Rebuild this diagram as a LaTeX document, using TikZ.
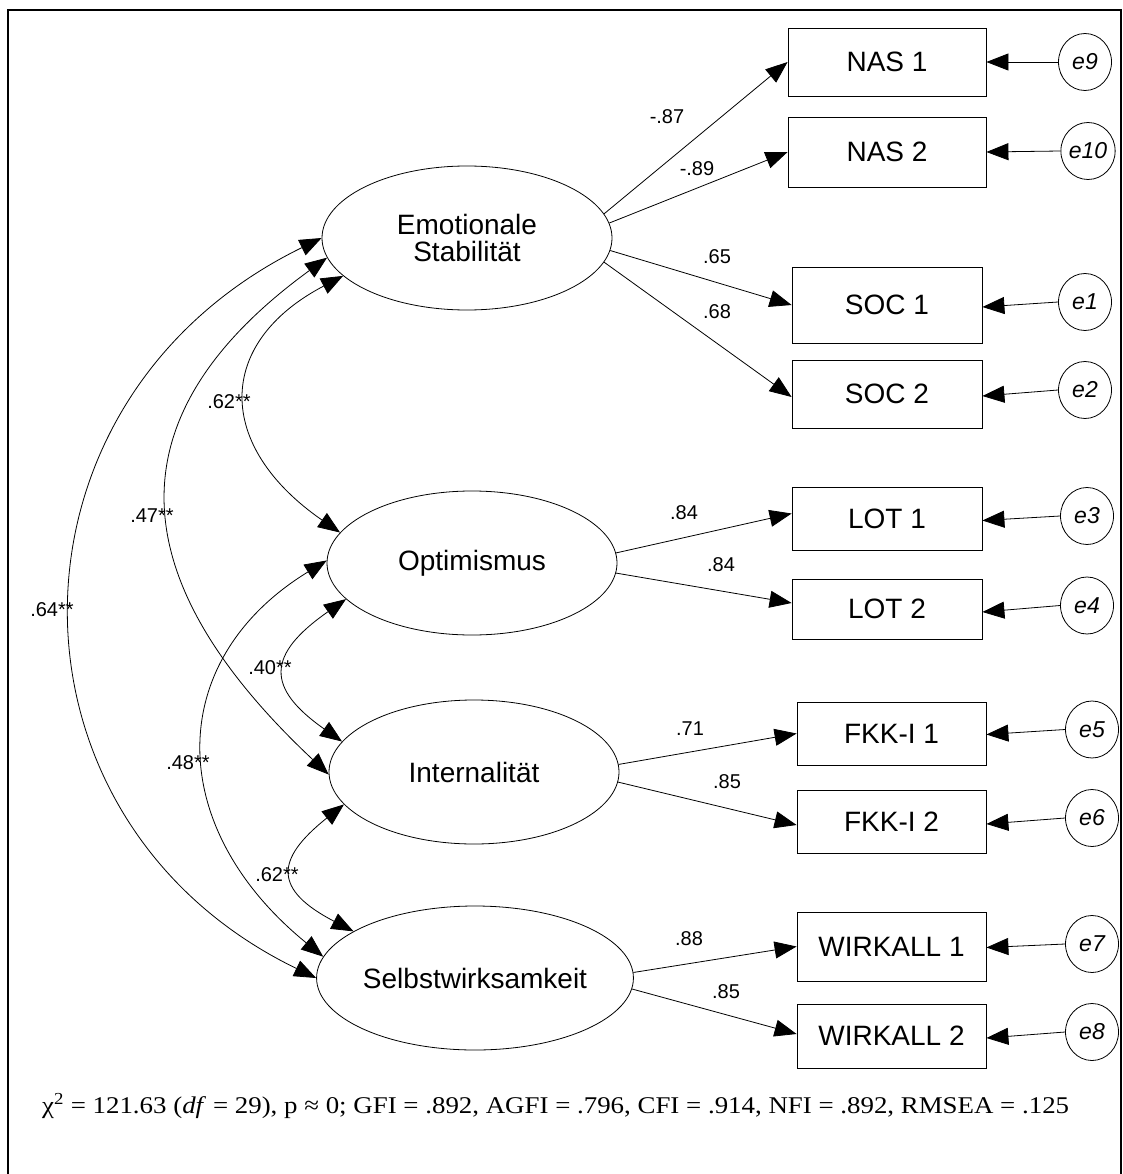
\documentclass[tikz,border=0pt]{standalone}
\usepackage{fontspec}
\setmainfont{Liberation Sans}
\newfontfamily\serifft{Liberation Serif}
\usetikzlibrary{arrows.meta,shapes.geometric,calc}
\begin{document}
\begin{tikzpicture}[x=1pt,y=-1pt,
  lat/.style={draw, ellipse, minimum width=290pt, minimum height=144pt, inner sep=0pt, line width=0.8pt, font=\fontsize{28}{27}\selectfont, align=center},
  obs/.style={draw, rectangle, inner sep=0pt, line width=0.8pt, font=\fontsize{28}{30}\selectfont},
  err/.style={draw, ellipse, minimum width=53pt, minimum height=57pt, inner sep=0pt, line width=0.8pt, font=\fontsize{23}{23}\selectfont\itshape},
  lab/.style={font=\fontsize{20}{20}\selectfont, inner sep=0pt},
  load/.style={line width=0.8pt, -{Triangle[length=22pt,width=17pt]}},
  cov/.style={line width=0.8pt, {Triangle[length=22pt,width=17pt]}-{Triangle[length=22pt,width=17pt]}}]
\useasboundingbox (0,0) rectangle (1123,1174);
\draw[line width=2pt] (8,1190) -- (8,10) -- (1121,10) -- (1121,1190);

% latent variables
\node[lat] (E) at (467,238) {Emotionale\\Stabilität};
\node[lat] (O) at (472,563) {Optimismus};
\node[lat] (I) at (474,772) {Internalität};
\node[lat] (S) at (475,978) {Selbstwirksamkeit};

% observed variables
\node[obs, minimum width=198pt, minimum height=68pt] (nas1) at (887,62) {NAS 1};
\node[obs, minimum width=198pt, minimum height=70pt] (nas2) at (887,152) {NAS 2};
\node[obs, minimum width=190pt, minimum height=76pt] (soc1) at (887,305) {SOC 1};
\node[obs, minimum width=190pt, minimum height=68pt] (soc2) at (887,394) {SOC 2};
\node[obs, minimum width=190pt, minimum height=63pt] (lot1) at (887,518.5) {LOT 1};
\node[obs, minimum width=190pt, minimum height=60pt] (lot2) at (887,609) {LOT 2};
\node[obs, minimum width=189pt, minimum height=63pt] (fkk1) at (891.5,733.5) {FKK-I 1};
\node[obs, minimum width=189pt, minimum height=63pt] (fkk2) at (891.5,822) {FKK-I 2};
\node[obs, minimum width=189pt, minimum height=69pt] (wir1) at (891.5,946.5) {WIRKALL 1};
\node[obs, minimum width=189pt, minimum height=64pt] (wir2) at (891.5,1036) {WIRKALL 2};

% error terms
\node[err] (e9) at (1085,62) {e9};
\node[err] (e10) at (1088,151) {e10};
\node[err] (e1) at (1085,302) {e1};
\node[err] (e2) at (1085,390) {e2};
\node[err] (e3) at (1087,516) {e3};
\node[err] (e4) at (1087,605.5) {e4};
\node[err] (e5) at (1092,729.5) {e5};
\node[err] (e6) at (1092,818) {e6};
\node[err] (e7) at (1092,944) {e7};
\node[err] (e8) at (1092,1032) {e8};

% error arrows
\draw[load] (e9.west) -- (nas1.east);
\draw[load] (e10.west) -- (nas2.east);
\draw[load] (e1.west) -- ($(soc1.east)+(0,2)$);
\draw[load] (e2.west) -- ($(soc2.east)+(0,2)$);
\draw[load] (e3.west) -- ($(lot1.east)+(0,2)$);
\draw[load] (e4.west) -- ($(lot2.east)+(0,3)$);
\draw[load] (e5.west) -- ($(fkk1.east)+(0,1)$);
\draw[load] (e6.west) -- ($(fkk2.east)+(0,2)$);
\draw[load] (e7.west) -- ($(wir1.east)+(0,1)$);
\draw[load] (e8.west) -- ($(wir2.east)+(0,2)$);

% loadings
\draw[load] (E.10) -- (nas1.west);
\draw[load] (E.6) -- (nas2.west);
\draw[load] (E.-5) -- (soc1.west);
\draw[load] (E.-10) -- ($(soc2.west)+(0,3)$);
\draw[load] (O.4) -- ($(lot1.west)+(0,-5)$);
\draw[load] (O.-4) -- ($(lot2.west)+(0,-6)$);
\draw[load] (I.3) -- (fkk1.west);
\draw[load] (I.-4) -- ($(fkk2.west)+(0,3)$);
\draw[load] (S.2) -- (wir1.west);
\draw[load] (S.-4) -- ($(wir2.west)+(0,-2)$);

% loading labels
\node[lab] (l1) at (667,117) {-.87};
\node[lab] (l2) at (697,169) {-.89};
\node[lab] (l3) at (717,257) {.65};
\node[lab] (l4) at (717,312) {.68};
\node[lab] (l5) at (684,513) {.84};
\node[lab] (l6) at (721,565) {.84};
\node[lab] (l7) at (690,729) {.71};
\node[lab] (l8) at (727,782) {.85};
\node[lab] (l9) at (689,939) {.88};
\node[lab] (l10) at (726,992) {.85};

% covariances
\draw[cov] (E.197) .. controls (215,343) and (215,446) .. (O.167);
\draw[cov] (E.188) .. controls (115,412) and (115,574) .. (I.181);
\draw[cov] (E.180) .. controls (-10,400) and (-10,820) .. (S.180);
\draw[cov] (O.179) .. controls (164,660) and (164,827) .. (S.172);
\draw[cov] (O.196) .. controls (266,655) and (266,688) .. (I.167);
\draw[cov] (I.194) .. controls (274,860) and (274,890) .. (S.159);

% covariance labels
\node[lab] (c1) at (229,402) {.62**};
\node[lab] (c2) at (152,516) {.47**};
\node[lab] (c3) at (52,610) {.64**};
\node[lab] (c4) at (188,763) {.48**};
\node[lab] (c5) at (270,668) {.40**};
\node[lab] (c6) at (277,875) {.62**};

% fit indices
\node[font=\serifft\fontsize{24}{26}\selectfont, anchor=west, inner sep=0pt] (fit) at (42,1106) {\scalebox{1.12}[1]{χ\textsuperscript{2} = 121.63 (\textit{df} = 29), p ≈ 0; GFI = .892, AGFI = .796, CFI = .914, NFI = .892, RMSEA = .125}};
\end{tikzpicture}
\end{document}
